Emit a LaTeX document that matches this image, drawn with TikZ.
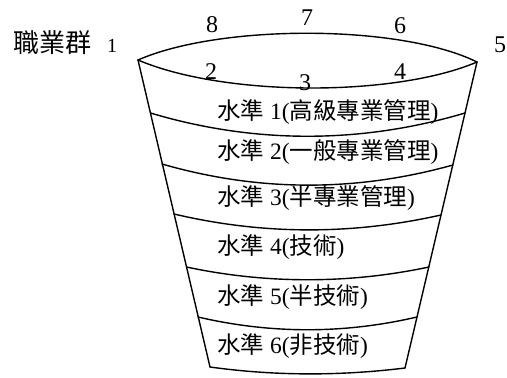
\documentclass[tikz,border=0pt]{standalone}
\usepackage{fontspec}
\setmainfont{Liberation Serif}
\newfontfamily\cjk{Noto Sans CJK TC}
\newcommand\zh[1]{{\cjk #1}}
\begin{document}
\begin{tikzpicture}[x=1pt,y=-1pt,
  edge/.style={line width=1.4pt, line join=round, line cap=round},
  num/.style={font=\fontsize{24}{24}\selectfont, inner sep=0pt},
  lvl/.style={font=\fontsize{23.5}{24}\selectfont, inner sep=0pt, anchor=west}]
\useasboundingbox (0,0) rectangle (507,378);
% corners
\coordinate (L) at (138,60);
\coordinate (R) at (477,62);
\coordinate (BL) at (210,367);
\coordinate (BR) at (405,368);
% divider end points
\coordinate (d1l) at (150.5,113); \coordinate (d1r) at (465,113);
\coordinate (d2l) at (162,164);   \coordinate (d2r) at (453,165);
\coordinate (d3l) at (174,214);   \coordinate (d3r) at (441,215);
\coordinate (d4l) at (186.5,267); \coordinate (d4r) at (429,267);
\coordinate (d5l) at (198,317);   \coordinate (d5r) at (417,317);
% top rim
\draw[edge] (L) .. controls (220,24) and (400,24) .. (R);
\draw[edge] (L) .. controls (225,97) and (395,97) .. (R);
% sides
\draw[edge] (L) -- (BL);
\draw[edge] (R) -- (BR);
% dividers
\draw[edge] (d1l) .. controls (254,144) and (361,144) .. (d1r);
\draw[edge] (d2l) .. controls (259,192) and (356,192) .. (d2r);
\draw[edge] (d3l) .. controls (263,235) and (352,235) .. (d3r);
\draw[edge] (d4l) .. controls (266,284) and (349,284) .. (d4r);
\draw[edge] (d5l) .. controls (271,334) and (344,334) .. (d5r);
\draw[edge] (BL) .. controls (275,376) and (340,376) .. (BR);
% labels around rim
\node[num] (n8) at (212,25) {8};
\node[num] (n7) at (307,18) {7};
\node[num] (n6) at (400,26) {6};
\node[num] (n5) at (500,45) {5};
\node[num] (n2) at (211,72) {2};
\node[num] (n3) at (305,83) {3};
\node[num] (n4) at (400,72) {4};
\node[inner sep=0pt, font=\fontsize{26}{26}\selectfont] (grp) at (52,43) {\zh{職業群}};
\node[inner sep=0pt, font=\fontsize{20}{20}\selectfont] (grp1) at (112,46) {1};
% levels
\node[lvl] (l1) at (217,112) {\zh{水準} 1(\zh{高級專業管理})};
\node[lvl] (l2) at (217,152) {\zh{水準} 2(\zh{一般專業管理})};
\node[lvl] (l3) at (217,198) {\zh{水準} 3(\zh{半專業管理})};
\node[lvl] (l4) at (217,247) {\zh{水準} 4(\zh{技術})};
\node[lvl] (l5) at (217,297) {\zh{水準} 5(\zh{半技術})};
\node[lvl] (l6) at (217,346) {\zh{水準} 6(\zh{非技術})};
\end{tikzpicture}
\end{document}
